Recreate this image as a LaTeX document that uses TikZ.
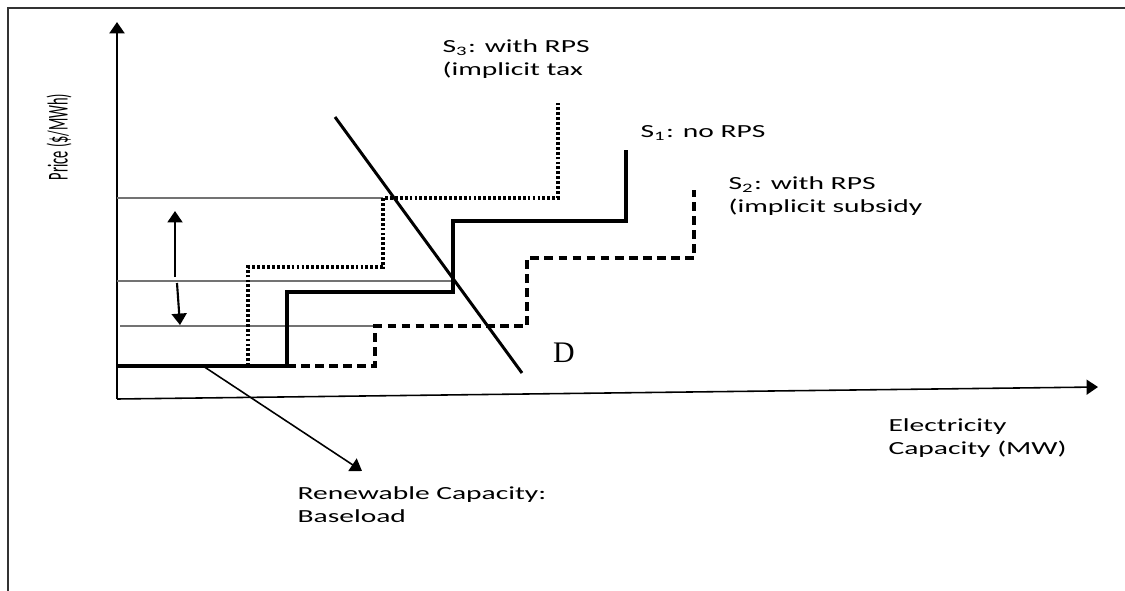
\documentclass[tikz,border=0pt]{standalone}
\usepackage{fontspec}
\setmainfont{Carlito}
\newfontfamily\dfont{Liberation Serif}
\usetikzlibrary{arrows.meta}
\tikzset{
  supply/.style={line width=2pt},
  guide/.style={line width=0.6pt, black!55},
  lbl/.style={font=\fontsize{10.5}{13.5}\selectfont, align=left, anchor=north west, inner sep=0pt, xscale=1.6},
}
\begin{document}
\begin{tikzpicture}[x=0.02cm, y=-0.02cm, >={Triangle[width=8.5pt,length=6.5pt]}]
    \useasboundingbox (0,0) rectangle (1125,591);
    % frame
    \draw[line width=0.8pt, black!80] (8,591) -- (8,8) -- (1125,8);
    % axes
    \coordinate (O) at (117,399);
    \coordinate (Ytop) at (117,22);
    \coordinate (Xend) at (1098,387);
    \draw[line width=1.4pt, ->] (O) -- (Ytop);
    \draw[line width=0.9pt, ->] (O) -- (Xend);
    % price guides
    \draw[guide] (117,198) -- (383,198);
    \draw[guide] (117,281) -- (453,281);
    \draw[guide] (120,326) -- (375,326);
    % supply curves
    \draw[supply] (117,366) -- (287,366) -- (287,292) -- (453,292) -- (453,221) -- (626,221) -- (626,150);
    \draw[supply, dash pattern=on 5pt off 3pt] (287,366) -- (375,366) -- (375,326) -- (527,326) -- (527,258) -- (694,258) -- (694,190);
    \draw[supply, dash pattern=on 1.6pt off 1.2pt] (248,366) -- (248,267) -- (383,267) -- (383,198) -- (558,198) -- (558,102);
    % demand
    \coordinate (Dtop) at (335,117);
    \coordinate (Dbot) at (522,373);
    \draw[line width=1.7pt] (Dtop) -- (Dbot);
    % price change arrows
    \coordinate (upA) at (175,277);
    \coordinate (upB) at (175,211);
    \coordinate (dnA) at (177,283);
    \coordinate (dnB) at (180,325);
    \draw[line width=1.2pt, ->] (upA) -- (upB);
    \draw[line width=1.2pt, ->] (dnA) -- (dnB);
    % baseload pointer
    \coordinate (bA) at (203,366);
    \coordinate (bB) at (362,471);
    \draw[line width=0.9pt, ->] (bA) -- (bB);
    % labels
    \node[lbl] (sThree) at (442,39) {S\textsubscript{3}: with RPS\\(implicit tax};
    \node[lbl] (sOne) at (640,125) {S\textsubscript{1}: no RPS};
    \node[lbl] (sTwo) at (728,176) {S\textsubscript{2}: with RPS\\(implicit subsidy};
    \node[lbl] (elec) at (888,418) {Electricity\\Capacity (MW)};
    \node[lbl] (renew) at (297,486) {Renewable Capacity:\\Baseload};
    \node[font=\fontsize{8.2}{9}\selectfont, rotate=90, inner sep=0pt] (price) at (59,137) {\scalebox{1}[2]{Price (\$/MWh)}};
    \node[font=\dfont\fontsize{17}{20}\selectfont, inner sep=0pt] (dLabel) at (564,353) {D};
\end{tikzpicture}
\end{document}
